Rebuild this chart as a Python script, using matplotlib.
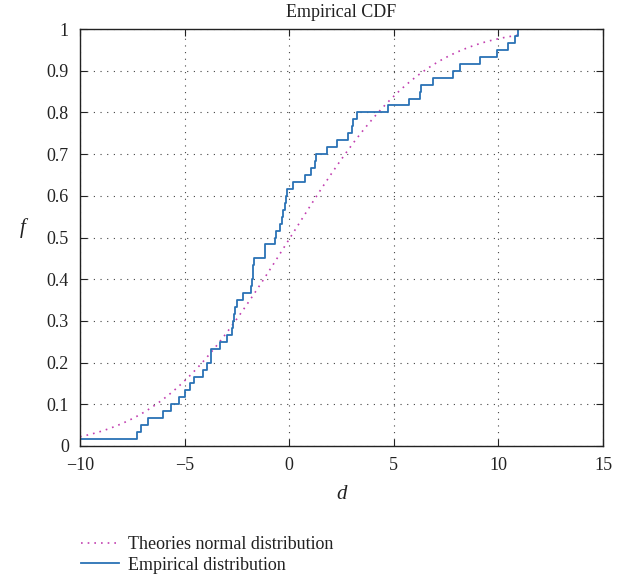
import math
import numpy as np
import matplotlib
matplotlib.use("Agg")
import matplotlib.pyplot as plt

# sample values (60 samples)
samples = [-10.00, -7.29, -7.08, -6.73, -6.02, -5.63, -5.25, -4.97, -4.74, -4.57,
           -4.14, -3.92, -3.74, -3.72, -3.29, -2.99, -2.75, -2.70, -2.64, -2.59,
           -2.51, -2.19, -1.84, -1.79, -1.75, -1.72, -1.70, -1.18, -1.15, -0.68,
           -0.63, -0.44, -0.36, -0.28, -0.20, -0.15, -0.10, 0.20, 0.76, 1.03,
           1.23, 1.28, 1.79, 2.30, 2.80, 3.00, 3.05, 3.24, 4.74, 5.73,
           6.27, 6.30, 6.89, 7.84, 8.16, 9.12, 9.95, 10.47, 10.79, 10.95]

# fitted normal distribution parameters
norm_mu = 0.05
norm_sigma = 5.0

x_ticks = [-10, -5, 0, 5, 10, 15]
y_ticks = [0, 0.1, 0.2, 0.3, 0.4, 0.5, 0.6, 0.7, 0.8, 0.9, 1]
y_ticklabels = ["0", "0.1", "0.2", "0.3", "0.4", "0.5", "0.6", "0.7", "0.8", "0.9", "1"]

plt.rcParams['font.family'] = ['Liberation Serif', 'DejaVu Serif']

x = np.sort(np.array(samples))
n = len(x)
xs = np.concatenate([[x[0]], x])
ys = np.arange(0, n + 1) / n

# normal curve drawn over the sample range
xn = np.linspace(x[0], x[-1], 400)
yn = np.array([0.5 * (1 + math.erf((v - norm_mu) / (norm_sigma * math.sqrt(2)))) for v in xn])

fig = plt.figure(figsize=(6.32, 5.78), dpi=100)
ax = fig.add_axes([80/632, 1-446/578, 523/632, 417/578])

l1, = ax.plot(xn, yn, color='#c23fb0', lw=1.2, ls=(0, (1, 3)))
l2, = ax.step(xs, ys, where='post', color='#2a72b5', lw=1.3)

ax.set_xlim(-10, 15)
ax.set_ylim(0, 1)
ax.set_xticks(x_ticks)
ax.set_yticks(y_ticks)
ax.set_yticklabels(y_ticklabels)
ax.tick_params(direction='in', top=True, right=True, labelsize=13, length=5, width=0.8,
               colors='#222222', pad=8)
ax.grid(True, ls=(0, (1, 5)), color='#444444', lw=0.8)
for s in ax.spines.values():
    s.set_color('#222222')
    s.set_linewidth(1.0)

ax.set_title("Empirical CDF", fontsize=13, color='#222222', pad=9)
ax.set_xlabel("d", fontsize=15, style='italic', labelpad=8, color='#222222')
ax.set_ylabel("f", fontsize=15, style='italic', rotation=0, labelpad=17, color='#222222')

fig.legend([l1, l2], ["Theories normal distribution", "Empirical distribution"],
           loc='upper left', bbox_to_anchor=(72/632, 1-527/578), frameon=False,
           fontsize=13, handlelength=2.1, handletextpad=0.5, labelspacing=0.2,
           borderpad=0, labelcolor='#222222')

plt.savefig("out.png", dpi=100)
